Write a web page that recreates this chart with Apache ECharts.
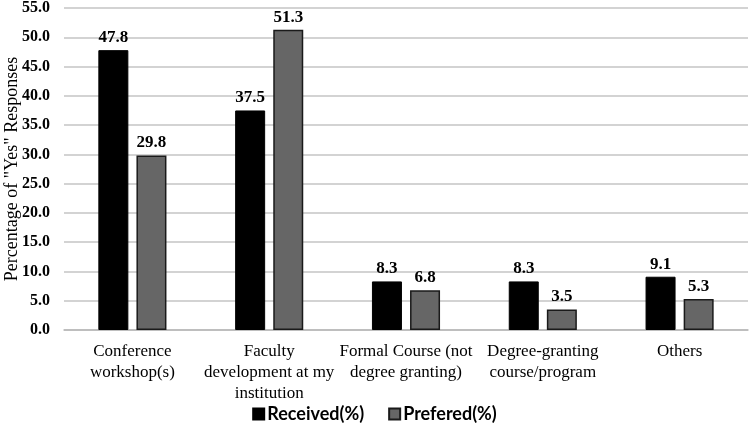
<!DOCTYPE html>
<html><head><meta charset="utf-8">
<script src="https://cdn.jsdelivr.net/npm/echarts@6/dist/echarts.min.js"></script>
<style>html,body{margin:0;padding:0;background:#fff}#c{width:749px;height:431px}</style>
</head><body><div id="c"></div>
<script>
const categories = ["Conference\nworkshop(s)", "Faculty\ndevelopment at my\ninstitution", "Formal Course (not\ndegree granting)", "Degree-granting\ncourse/program", "Others"];
const received = [47.8, 37.5, 8.3, 8.3, 9.1];
const prefered = [29.8, 51.3, 6.8, 3.5, 5.3];
const chart = echarts.init(document.getElementById('c'));
const serif = '"Liberation Serif", "Times New Roman", serif';
const lbl = {show: true, position: 'top', distance: 4, fontFamily: serif, fontSize: 17, fontWeight: 'bold', color: '#000', formatter: p => p.value.toFixed(1)};
chart.setOption({
  animation: false,
  grid: {left: 64, right: 1, top: 8, bottom: 101, containLabel: false, outerBoundsMode: 'none'},
  legend: {
    bottom: 3, left: 'center', icon: 'rect', itemWidth: 11, itemHeight: 11, itemGap: 24,
    textStyle: {fontFamily: 'Lato, "Open Sans", sans-serif', fontSize: 18, fontWeight: 'bold', color: '#000', padding: [0, 0, 0, -2]},
    data: ['Received(%)', 'Prefered(%)']
  },
  xAxis: {
    type: 'category', data: categories,
    axisLine: {lineStyle: {color: '#b8b8b8', width: 1.5}},
    axisTick: {show: false},
    axisLabel: {fontFamily: serif, fontSize: 17, color: '#000', lineHeight: 21, margin: 11, interval: 0}
  },
  yAxis: {
    type: 'value', min: 0, max: 55, interval: 5,
    name: 'Percentage of "Yes" Responses', nameLocation: 'middle', nameGap: 43, nameRotate: 90,
    nameMoveOverlap: false,
    nameTextStyle: {fontFamily: serif, fontSize: 18, color: '#000'},
    axisLabel: {fontFamily: serif, fontSize: 16, fontWeight: 'bold', color: '#000', margin: 14, formatter: v => v.toFixed(1)},
    splitLine: {lineStyle: {color: '#c4c4c4', width: 1.5}},
    axisLine: {show: false}, axisTick: {show: false}
  },
  series: [
    {name: 'Received(%)', type: 'bar', data: received, barWidth: 30, barGap: '27%',
     itemStyle: {color: '#000', borderColor: '#000', borderWidth: 1}, label: lbl},
    {name: 'Prefered(%)', type: 'bar', data: prefered, barWidth: 30,
     itemStyle: {color: '#666666', borderColor: '#1a1a1a', borderWidth: 1.5}, label: lbl}
  ]
});
</script></body></html>
